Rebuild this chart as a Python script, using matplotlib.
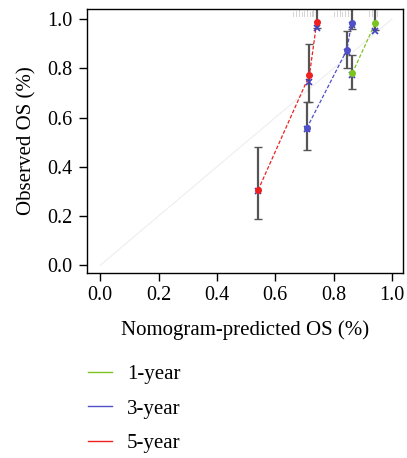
import matplotlib
matplotlib.use("Agg")
import matplotlib.pyplot as plt
from matplotlib.lines import Line2D

plt.rcParams['font.family'] = ['Liberation Serif', 'DejaVu Serif']

# ---- data ----
series_names = ["1-year", "3-year", "5-year"]
colors = ["#7CC520", "#5050C8", "#F02020"]

pred_1 = [0.864, 0.942]
obs_1 = [0.780, 0.982]
lo_1 = [0.715, 0.955]
hi_1 = [0.854, 1.060]
corr_1 = [0.772, 0.952]

pred_3 = [0.708, 0.845, 0.862]
obs_3 = [0.557, 0.874, 0.985]
lo_3 = [0.467, 0.800, 0.960]
hi_3 = [0.663, 0.950, 1.060]
corr_3 = [0.553, 0.868, 0.975]

pred_5 = [0.541, 0.717, 0.742]
obs_5 = [0.305, 0.772, 0.988]
lo_5 = [0.187, 0.663, 0.962]
hi_5 = [0.480, 0.900, 1.060]
corr_5 = [0.300, 0.745, 0.962]

# rug of predicted values along the top
rug_x = [0.66, 0.67, 0.68, 0.69, 0.70, 0.71, 0.72, 0.725, 0.73,
         0.80, 0.81, 0.82, 0.83, 0.84, 0.85, 0.86,
         0.92, 0.93, 0.94, 0.95]

xticks = [0.0, 0.2, 0.4, 0.6, 0.8, 1.0]
yticks = [0.0, 0.2, 0.4, 0.6, 0.8, 1.0]

fig = plt.figure(figsize=(4.07, 4.58), dpi=100)
ax = fig.add_axes([0.2138, 0.404, 0.776, 0.576])

ax.plot([0, 1], [0, 1], color="#eeeeee", lw=0.8, zorder=1)

for i, r in enumerate(rug_x):
    ax.plot([r, r], [1.014, 1.028 + 0.004 * (i % 3)], color="#d4d4d4", lw=0.7, zorder=1)

data = [
    (pred_1, obs_1, lo_1, hi_1, corr_1),
    (pred_3, obs_3, lo_3, hi_3, corr_3),
    (pred_5, obs_5, lo_5, hi_5, corr_5),
]
for (p, o, lo, hi, c), col in zip(data, colors):
    yerr = [[oi - l for oi, l in zip(o, lo)], [h - oi for oi, h in zip(o, hi)]]
    ax.errorbar(p, o, yerr=yerr, fmt='none', ecolor="#555555", elinewidth=1.6,
                capsize=3, capthick=1.0, zorder=2)
    ax.plot(p, o, color=col, lw=0.9, ls=(0, (3, 1.5)), zorder=3)
    ax.plot(p, c, ls='none', marker='x', color="#4040c0", ms=4, mew=1.2, zorder=4)
    ax.plot(p, o, ls='none', marker='o', color=col, ms=4, zorder=5)

ax.set_xlim(-0.045, 1.037)
ax.set_ylim(-0.031, 1.04)
ax.set_xticks(xticks)
ax.set_yticks(yticks)
ax.set_xticklabels([f"{v:.1f}" for v in xticks])
ax.set_yticklabels([f"{v:.1f}" for v in yticks])
ax.tick_params(labelsize=14.5, length=6, width=1, direction='out', pad=3.5)
ax.tick_params(axis='y', pad=4.5)
for s in ax.spines.values():
    s.set_linewidth(1.0)
ax.set_xlabel("Nomogram-predicted OS (%)", fontsize=15, labelpad=11)
ax.set_ylabel("Observed OS (%)", fontsize=15, labelpad=8)

handles = [Line2D([0], [0], color=c, lw=1.0) for c in colors]
fig.legend(handles, series_names, loc='upper left', bbox_to_anchor=(0.216, 0.204),
           frameon=False, fontsize=15, handlelength=1.15, handletextpad=0.72,
           labelspacing=0.72, borderpad=0, borderaxespad=0)

fig.savefig("out.png", dpi=100)
